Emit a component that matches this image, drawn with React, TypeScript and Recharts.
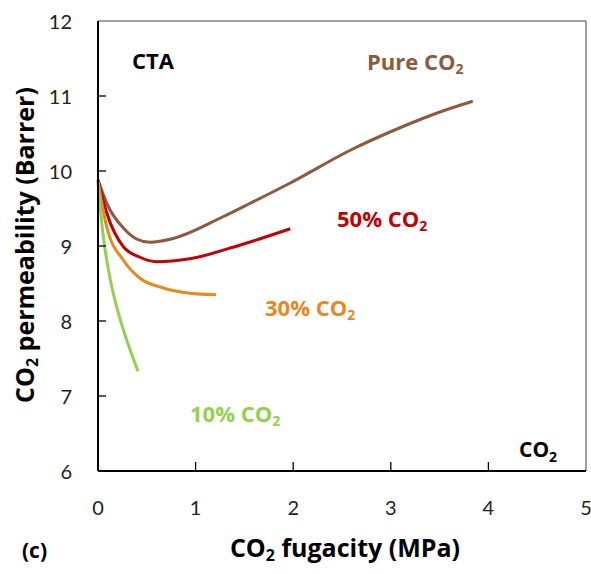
import { LineChart, Line, XAxis, YAxis, ReferenceLine } from "recharts";

const X_TICKS = [0, 1, 2, 3, 4, 5];
const Y_TICKS = [6, 7, 8, 9, 10, 11, 12];

// [fugacity MPa, permeability Barrer]
const PURE = [
  [0, 9.88], [0.1, 9.54], [0.26, 9.24], [0.4, 9.09], [0.53, 9.05], [0.77, 9.1],
  [1.28, 9.39], [1.56, 9.57], [1.97, 9.84], [2.59, 10.28], [3.1, 10.58], [3.51, 10.79], [3.84, 10.93],
];
const FIFTY = [
  [0, 9.88], [0.09, 9.44], [0.26, 8.99], [0.43, 8.85], [0.6, 8.79], [0.94, 8.83], [1.45, 9.01], [1.97, 9.23],
];
const THIRTY = [
  [0, 9.86], [0.09, 9.25], [0.26, 8.81], [0.43, 8.57], [0.67, 8.44], [0.94, 8.37], [1.21, 8.35],
];
const TEN = [
  [0, 9.85], [0.05, 9.17], [0.12, 8.59], [0.23, 8.01], [0.33, 7.61], [0.41, 7.33],
];

const toRows = (pts: number[][]) => pts.map(([f, p]) => ({ f, p }));

const FONT = "Lato, 'Open Sans', sans-serif";
const BOLD = "'Open Sans', sans-serif";
const W = 591;
const H = 574;

function YTick(props: any) {
  const { x, y, payload } = props;
  return (
    <g>
      {payload.value !== 6 && payload.value !== 12 && (
        <line x1={x} x2={x + 8} y1={y} y2={y} stroke="#000" strokeWidth={1.3} />
      )}
      <text x={x - 26} y={y} textAnchor="end" dominantBaseline="central" fontSize={20} fill="#222" fontFamily={FONT}>
        {payload.value}
      </text>
    </g>
  );
}

function XTick(props: any) {
  const { x, y, payload } = props;
  return (
    <g>
      {payload.value !== 0 && payload.value !== 5 && (
        <line x1={x} x2={x} y1={y} y2={y - 9} stroke="#000" strokeWidth={1.3} />
      )}
      <text x={x} y={y + 36} textAnchor="middle" dominantBaseline="central" fontSize={20} fill="#222" fontFamily={FONT}>
        {payload.value}
      </text>
    </g>
  );
}

function CO2({ pre = "", post = "", sub = 14, drop = 7 }: { pre?: string; post?: string; sub?: number; drop?: number }) {
  return (
    <>
      <tspan>{pre}CO</tspan>
      <tspan dy={drop} fontSize={sub}>2</tspan>
      {post && <tspan dy={-drop}>{post}</tspan>}
    </>
  );
}

function Labels() {
  const lbl = { fontFamily: BOLD, fontWeight: 700, fontSize: 22, dominantBaseline: "central" as const };
  return (
    <svg width={W} height={H} style={{ position: "absolute", left: 0, top: 0, pointerEvents: "none" }}>
      <text x={153} y={60} textAnchor="middle" fill="#000" {...lbl}>CTA</text>
      <text x={367} y={61} fill="#8c5a3f" {...lbl}><CO2 pre="Pure " /></text>
      <text x={337} y={218} fill="#c00000" {...lbl}><CO2 pre="50% " /></text>
      <text x={265} y={307} fill="#e8871e" {...lbl}><CO2 pre="30% " /></text>
      <text x={190} y={413} fill="#92d050" {...lbl}><CO2 pre="10% " /></text>
      <text x={519} y={449} fill="#000" {...lbl} fontSize={21}><CO2 /></text>
      <text x={22} y={550} fill="#000" {...lbl} fontSize={21}>(c)</text>
      <text x={345} y={547} textAnchor="middle" fill="#000" {...lbl} fontSize={25}>
        <CO2 post=" fugacity (MPa)" sub={16} drop={8} />
      </text>
      <text
        x={0}
        y={0}
        transform="translate(24,245) rotate(-90)"
        textAnchor="middle"
        fill="#000"
        {...lbl}
        fontSize={25}
      >
        <CO2 post=" permeability (Barrer)" sub={16} drop={8} />
      </text>
    </svg>
  );
}

export default function App() {
  return (
    <div style={{ position: "absolute", left: 0, top: 0, width: W, height: H, background: "#fff" }}>
      <LineChart width={W} height={H} margin={{ top: 21, right: 5, bottom: 0, left: 0 }}>
        <XAxis
          type="number"
          dataKey="f"
          domain={[0, 5]}
          ticks={X_TICKS}
          height={103}
          tickSize={0}
          tickMargin={0}
          tick={<XTick />}
          axisLine={{ stroke: "#000", strokeWidth: 2 }}
          allowDuplicatedCategory={false}
        />
        <YAxis
          type="number"
          dataKey="p"
          domain={[6, 12]}
          ticks={Y_TICKS}
          width={98}
          tickSize={0}
          tickMargin={0}
          tick={<YTick />}
          axisLine={{ stroke: "#000", strokeWidth: 2 }}
        />
        <ReferenceLine y={12} stroke="#7f7f7f" strokeWidth={1.5} />
        <ReferenceLine x={5} stroke="#7f7f7f" strokeWidth={1.5} />
        <Line data={toRows(PURE)} dataKey="p" type="monotone" stroke="#8c5a3f" strokeWidth={3} dot={false} isAnimationActive={false} />
        <Line data={toRows(FIFTY)} dataKey="p" type="monotone" stroke="#c00000" strokeWidth={3} dot={false} isAnimationActive={false} />
        <Line data={toRows(THIRTY)} dataKey="p" type="monotone" stroke="#e8871e" strokeWidth={3} dot={false} isAnimationActive={false} />
        <Line data={toRows(TEN)} dataKey="p" type="monotone" stroke="#92d050" strokeWidth={3} dot={false} isAnimationActive={false} />
      </LineChart>
      <Labels />
    </div>
  );
}
